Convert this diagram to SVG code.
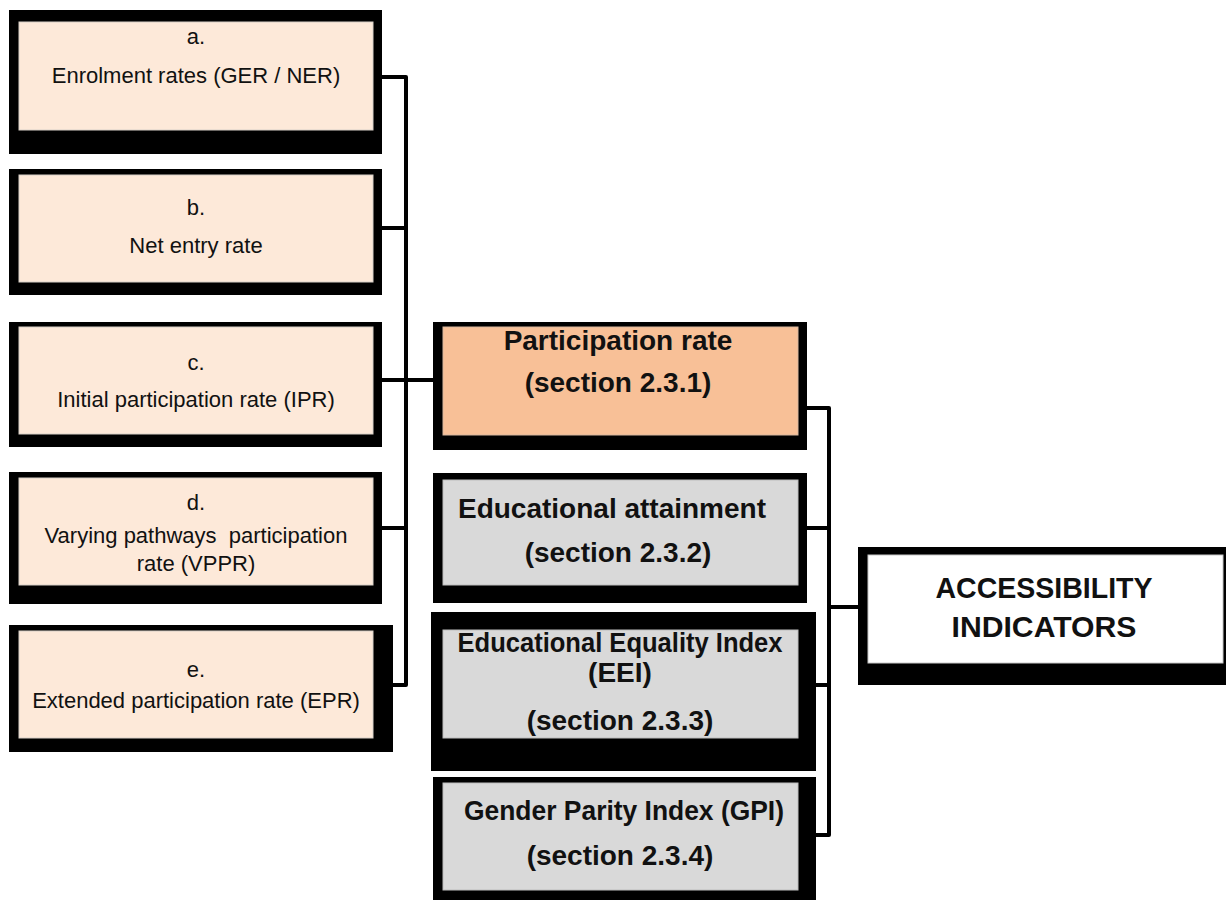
<svg xmlns="http://www.w3.org/2000/svg" width="1226" height="900" viewBox="0 0 1226 900">
  <style>
    .frame { fill: #000000; }
    .peach { fill: #FDE9D9; stroke: #d8d0c8; stroke-width: 1; }
    .orange { fill: #F8C097; stroke: #d8b8a0; stroke-width: 1; }
    .grey { fill: #D9D9D9; stroke: #bdbdbd; stroke-width: 1; }
    .white { fill: #FFFFFF; stroke: #c8c8c8; stroke-width: 1; }
    .lbl { font-family: "Liberation Sans", Arial, sans-serif; font-size: 22px; fill: #111111; text-anchor: middle; }
    .bold { font-family: "Liberation Sans", Arial, sans-serif; font-size: 28px; font-weight: bold; fill: #111111; text-anchor: middle; }
    .big { font-family: "Liberation Sans", Arial, sans-serif; font-size: 30px; font-weight: bold; fill: #111111; text-anchor: middle; }
    .wire { fill: none; stroke: #000000; stroke-width: 4; stroke-linejoin: round; }
  </style>

  <!-- connectors -->
  <g id="connectors">
    <path class="wire" d="M382,77 H406 V685 H393"/>
    <path class="wire" d="M382,228 H406"/>
    <path class="wire" d="M382,380 H433"/>
    <path class="wire" d="M382,528 H406"/>
    <path class="wire" d="M807,408 H829 V835 H816"/>
    <path class="wire" d="M807,528 H829"/>
    <path class="wire" d="M816,685 H829"/>
    <path class="wire" d="M829,607 H858"/>
  </g>

  <!-- left column: component indicators -->
  <g id="node-a">
    <rect class="frame" x="9" y="10" width="373" height="144"/>
    <rect class="peach" x="19" y="22" width="354" height="108"/>
    <text class="lbl" x="196" y="44">a.</text>
    <text class="lbl" x="196" y="83">Enrolment rates (GER / NER)</text>
  </g>
  <g id="node-b">
    <rect class="frame" x="9" y="169" width="373" height="126"/>
    <rect class="peach" x="19" y="175" width="354" height="107"/>
    <text class="lbl" x="196" y="215">b.</text>
    <text class="lbl" x="196" y="253">Net entry rate</text>
  </g>
  <g id="node-c">
    <rect class="frame" x="9" y="322" width="373" height="125"/>
    <rect class="peach" x="19" y="327" width="354" height="107"/>
    <text class="lbl" x="196" y="370">c.</text>
    <text class="lbl" x="196" y="407">Initial participation rate (IPR)</text>
  </g>
  <g id="node-d">
    <rect class="frame" x="9" y="472" width="373" height="132"/>
    <rect class="peach" x="19" y="478" width="354" height="107"/>
    <text class="lbl" x="196" y="510">d.</text>
    <text class="lbl" x="196" y="543" xml:space="preserve">Varying pathways  participation</text>
    <text class="lbl" x="196" y="571">rate (VPPR)</text>
  </g>
  <g id="node-e">
    <rect class="frame" x="9" y="625" width="384" height="127"/>
    <rect class="peach" x="19" y="631" width="354" height="107"/>
    <text class="lbl" x="196" y="677">e.</text>
    <text class="lbl" x="196" y="708">Extended participation rate (EPR)</text>
  </g>

  <!-- middle column: indicator groups -->
  <g id="node-participation">
    <rect class="frame" x="433" y="322" width="374" height="128"/>
    <rect class="orange" x="443" y="327" width="355" height="108"/>
    <text class="bold" x="618" y="350">Participation rate</text>
    <text class="bold" x="618" y="392">(section 2.3.1)</text>
  </g>
  <g id="node-attainment">
    <rect class="frame" x="433" y="473" width="374" height="130"/>
    <rect class="grey" x="443" y="480" width="355" height="105"/>
    <text class="bold" x="612" y="518">Educational attainment</text>
    <text class="bold" x="618" y="562">(section 2.3.2)</text>
  </g>
  <g id="node-eei">
    <rect class="frame" x="431" y="612" width="385" height="159"/>
    <rect class="grey" x="443" y="630" width="355" height="108"/>
    <text class="bold" x="620" y="652" textLength="325" lengthAdjust="spacingAndGlyphs">Educational Equality Index</text>
    <text class="bold" x="620" y="682">(EEI)</text>
    <text class="bold" x="620" y="730">(section 2.3.3)</text>
  </g>
  <g id="node-gpi">
    <rect class="frame" x="433" y="777" width="383" height="123"/>
    <rect class="grey" x="443" y="783" width="355" height="107"/>
    <text class="bold" x="624" y="820" textLength="320" lengthAdjust="spacingAndGlyphs">Gender Parity Index (GPI)</text>
    <text class="bold" x="620" y="865">(section 2.3.4)</text>
  </g>

  <!-- right: root -->
  <g id="node-accessibility">
    <rect class="frame" x="858" y="547" width="368" height="138"/>
    <rect class="white" x="868" y="555" width="355" height="108"/>
    <text class="big" x="1044" y="598" textLength="217" lengthAdjust="spacingAndGlyphs">ACCESSIBILITY</text>
    <text class="big" x="1044" y="637" textLength="185" lengthAdjust="spacingAndGlyphs">INDICATORS</text>
  </g>
</svg>
